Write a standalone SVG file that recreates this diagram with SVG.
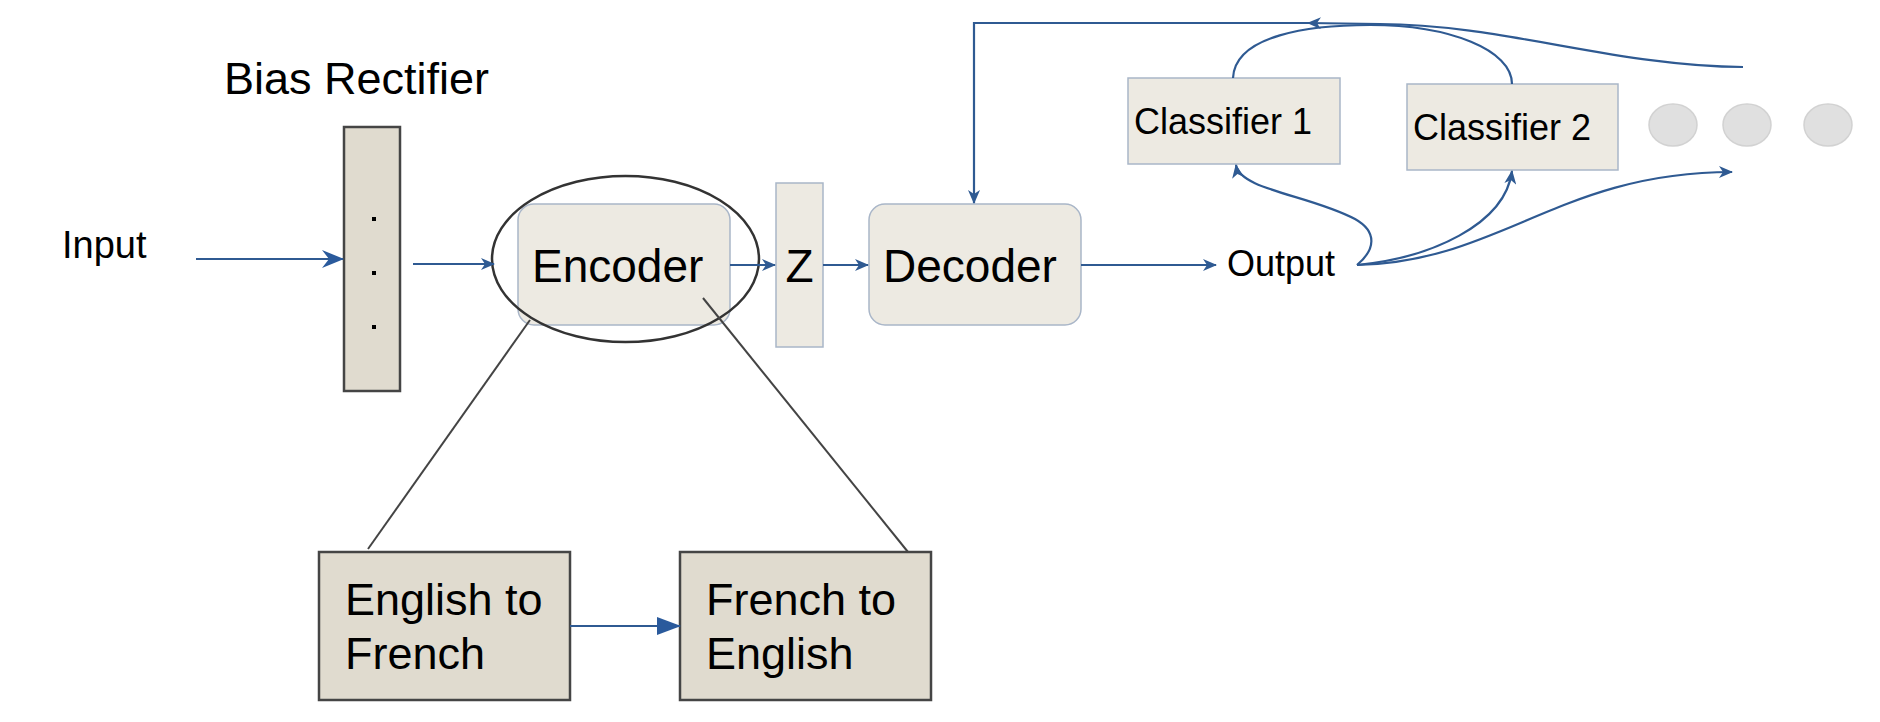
<svg xmlns="http://www.w3.org/2000/svg" width="1880" height="722" viewBox="0 0 1880 722">
<style>
text{font-family:"Liberation Sans",Arial,sans-serif;fill:#000}
.box{fill:#edeae2;stroke:#a9b6c8;stroke-width:1.5}
.dark{fill:#e0dbcf;stroke:#454545;stroke-width:2.5}
.conn{fill:none;stroke:#2f5a92;stroke-width:2.2}
.zoomline{fill:none;stroke:#444;stroke-width:2}
.dot{fill:#e0e0e0;stroke:#d2d2d2;stroke-width:1.5}
</style>
<defs>
<marker id="arr" markerUnits="userSpaceOnUse" viewBox="0 0 14 12" markerWidth="14" markerHeight="12" refX="13" refY="6" orient="auto">
<path d="M0,0 L14,6 L0,12 L4,6 z" fill="#2f5a92"/>
</marker>
<marker id="arrL" markerUnits="userSpaceOnUse" viewBox="0 0 22 18" markerWidth="22" markerHeight="18" refX="21" refY="9" orient="auto">
<path d="M0,0 L22,9 L0,18 L7,9 z" fill="#2a5a9c"/>
</marker>
<marker id="tri" markerUnits="userSpaceOnUse" viewBox="0 0 24 18" markerWidth="24" markerHeight="18" refX="23" refY="9" orient="auto">
<path d="M0,0 L24,9 L0,18 z" fill="#2a5a9c"/>
</marker>
</defs>

<g id="bias-rectifier">
<text x="224" y="94" font-size="45">Bias Rectifier</text>
<rect class="dark" x="344" y="127" width="56" height="264"/>
<rect x="372" y="217" width="4" height="4" fill="#000"/>
<rect x="372" y="271" width="4" height="4" fill="#000"/>
<rect x="372" y="325" width="4" height="4" fill="#000"/>
</g>

<g id="input"><text x="62" y="258" font-size="38">Input</text></g>

<g id="encoder">
<rect class="box" x="518" y="204" width="212" height="121" rx="16"/>
<text x="532" y="282" font-size="46">Encoder</text>
</g>
<g id="encoder-ring"><ellipse cx="625.5" cy="259" rx="133.5" ry="83" fill="none" stroke="#333" stroke-width="2.5"/></g>

<g id="z">
<rect class="box" x="776" y="183" width="47" height="164"/>
<text x="799.5" y="282" font-size="46" text-anchor="middle">Z</text>
</g>

<g id="decoder">
<rect class="box" x="869" y="204" width="212" height="121" rx="16"/>
<text x="883" y="282" font-size="46">Decoder</text>
</g>

<g id="output"><text x="1227" y="276" font-size="36">Output</text></g>

<g id="classifier-1">
<rect class="box" x="1128" y="78" width="212" height="86"/>
<text x="1134" y="134" font-size="36">Classifier 1</text>
</g>

<g id="classifier-2">
<rect class="box" x="1407" y="84" width="211" height="86"/>
<text x="1413" y="140" font-size="36">Classifier 2</text>
</g>

<g id="more">
<ellipse class="dot" cx="1673" cy="125" rx="24" ry="21"/>
<ellipse class="dot" cx="1747" cy="125" rx="24" ry="21"/>
<ellipse class="dot" cx="1828" cy="125" rx="24" ry="21"/>
</g>

<g id="english-to-french">
<rect class="dark" x="319" y="552" width="251" height="148"/>
<text x="345" y="615" font-size="45">English to</text>
<text x="345" y="669" font-size="45">French</text>
</g>

<g id="french-to-english">
<rect class="dark" x="680" y="552" width="251" height="148"/>
<text x="706" y="615" font-size="45">French to</text>
<text x="706" y="669" font-size="45">English</text>
</g>

<g id="connectors">
<line class="conn" x1="196" y1="259" x2="343" y2="259" stroke="#2a5a9c" stroke-width="2.6" marker-end="url(#arrL)"/>
<line class="conn" x1="413" y1="264" x2="494" y2="264" marker-end="url(#arr)"/>
<line class="conn" x1="730" y1="265" x2="775" y2="265" marker-end="url(#arr)"/>
<line class="conn" x1="823" y1="265" x2="868" y2="265" marker-end="url(#arr)"/>
<line class="conn" x1="1081" y1="265" x2="1216" y2="265" marker-end="url(#arr)"/>
<path class="conn" d="M1357,265 C1375,250 1378,232 1355,219 C1310,195 1240,190 1236,165" marker-end="url(#arr)"/>
<path class="conn" d="M1357,265 C1430,258 1505,225 1512,171" marker-end="url(#arr)"/>
<path class="conn" d="M1357,265 C1500,262 1560,172 1732,172" marker-end="url(#arr)"/>
<path class="conn" d="M1233,78 C1235,35 1310,25 1370,25 C1450,25 1512,50 1512,84"/>
<path class="conn" d="M1743,67 C1620,67 1500,24 1380,24 L1308,23" marker-end="url(#arr)"/>
<path class="conn" d="M1308,23 L974,23 L974,203" marker-end="url(#arr)"/>
<line class="conn" x1="570" y1="626" x2="680" y2="626" stroke="#2a5a9c" stroke-width="2.6" marker-end="url(#tri)"/>
<line class="zoomline" x1="530" y1="320" x2="368" y2="549"/>
<line class="zoomline" x1="703" y1="298" x2="908" y2="552"/>
</g>
</svg>
